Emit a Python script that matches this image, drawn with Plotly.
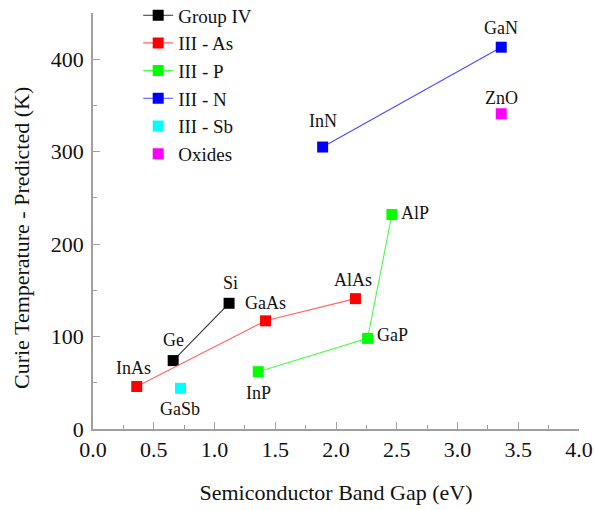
import plotly.graph_objects as go

# ---- data ----
group_iv_names = ["Ge", "Si"]
group_iv_gap = [0.66, 1.12]
group_iv_tc = [74, 136]

iii_as_names = ["InAs", "GaAs", "AlAs"]
iii_as_gap = [0.36, 1.42, 2.16]
iii_as_tc = [46, 117, 141]

iii_p_names = ["InP", "GaP", "AlP"]
iii_p_gap = [1.36, 2.26, 2.46]
iii_p_tc = [62, 98, 232]

iii_n_names = ["InN", "GaN"]
iii_n_gap = [1.89, 3.36]
iii_n_tc = [305, 413]

iii_sb_names = ["GaSb"]
iii_sb_gap = [0.72]
iii_sb_tc = [44]

oxide_names = ["ZnO"]
oxide_gap = [3.36]
oxide_tc = [341]

x_ticks = [0.0, 0.5, 1.0, 1.5, 2.0, 2.5, 3.0, 3.5, 4.0]
y_ticks = [0, 100, 200, 300, 400]

# ---- styles ----
FONT = "Liberation Serif"
series = [
    ("Group IV", group_iv_names, group_iv_gap, group_iv_tc, "#000000", "#303030", True),
    ("III - As", iii_as_names, iii_as_gap, iii_as_tc, "#ff0000", "#ff6464", True),
    ("III - P", iii_p_names, iii_p_gap, iii_p_tc, "#00ff00", "#44ff44", True),
    ("III - N", iii_n_names, iii_n_gap, iii_n_tc, "#0000ff", "#4a4aff", True),
    ("III - Sb", iii_sb_names, iii_sb_gap, iii_sb_tc, "#00ffff", "#00ffff", False),
    ("Oxides", oxide_names, oxide_gap, oxide_tc, "#ff00ff", "#ff00ff", False),
]

# label placement (xanchor, xshift, yshift)
label_place = {
    "Ge": ("center", 0, 21), "Si": ("center", 1, 20),
    "InAs": ("center", -3, 18), "GaAs": ("center", 0, 18), "AlAs": ("center", -2, 19),
    "InP": ("center", 0, -21), "GaP": ("left", 7, 3), "AlP": ("left", 7, 2),
    "InN": ("center", 0, 26), "GaN": ("center", 0, 19),
    "GaSb": ("center", 0, -21), "ZnO": ("center", 0, 16),
}

ML, MR, MT, MB = 93, 16, 13, 81
W, H = 595, 510
plot_w = W - ML - MR
plot_h = H - MT - MB

fig = go.Figure()
annotations = []
for name, labels, xs, ys, mcol, lcol, has_line in series:
    fig.add_trace(go.Scatter(
        x=xs, y=ys, name=name,
        mode="lines+markers" if has_line else "markers",
        line=dict(color=lcol, width=1.1),
        marker=dict(symbol="square", size=11, color=mcol, line=dict(width=0)),
    ))
    for lab, xv, yv in zip(labels, xs, ys):
        xa, xs_, ys_ = label_place[lab]
        annotations.append(dict(
            x=xv, y=yv, xref="x", yref="y", text=lab, showarrow=False,
            xanchor=xa, yanchor="middle", xshift=xs_, yshift=ys_,
            font=dict(family=FONT, size=18, color="#111111"),
        ))

# y-axis title as annotation (placed in paper coords)
annotations.append(dict(
    x=(21 - ML) / plot_w, y=(H - MB - 238) / plot_h, xref="paper", yref="paper",
    text="Curie Temperature - Predicted (K)", showarrow=False, textangle=-90,
    xanchor="center", yanchor="middle",
    font=dict(family=FONT, size=22, color="#111111"),
))

axis_common = dict(
    showline=True, linecolor="#a0a0a0", linewidth=1.5,
    ticks="inside", ticklen=7, tickwidth=1, tickcolor="#a0a0a0",
    showgrid=False, zeroline=False, mirror=False, automargin=False,
    tickfont=dict(family=FONT, size=22, color="#111111"),
)

fig.update_layout(
    width=W, height=H,
    margin=dict(l=ML, r=MR, t=MT, b=MB, autoexpand=False),
    plot_bgcolor="white", paper_bgcolor="white",
    font=dict(family=FONT, color="#111111"),
    xaxis=dict(
        range=[0, 4], tickvals=x_ticks, ticktext=[f"{v:.1f}" for v in x_ticks],
        minor=dict(dtick=0.25, ticks="inside", ticklen=4, tickcolor="#a0a0a0"),
        title=dict(text="Semiconductor Band Gap (eV)", font=dict(family=FONT, size=22), standoff=23),
        **axis_common,
    ),
    yaxis=dict(
        range=[0, 450], tickvals=y_ticks, ticktext=[str(v) for v in y_ticks],
        minor=dict(dtick=50, ticks="inside", ticklen=4, tickcolor="#a0a0a0"),
        ticklabelstandoff=3,
        **axis_common,
    ),
    legend=dict(
        x=0.093, y=1.04, xanchor="left", yanchor="top",
        font=dict(family=FONT, size=19, color="#111111"),
        bgcolor="rgba(0,0,0,0)", borderwidth=0,
    ),
    showlegend=True,
    annotations=annotations,
)

fig.write_html(
    "out.html",
    config={"displayModeBar": False},
    post_script="document.body.style.margin='0';document.body.style.padding='0';",
)
